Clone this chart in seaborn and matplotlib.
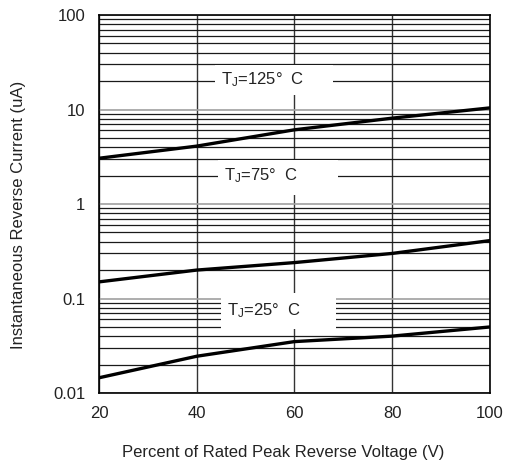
import numpy as np
import pandas as pd
import matplotlib
matplotlib.use("Agg")
import matplotlib.pyplot as plt
from matplotlib.patches import Rectangle
from matplotlib.ticker import LogLocator, NullFormatter, FixedLocator, FixedFormatter
import seaborn as sns

# ---- data ----
voltage_pct = [20, 40, 60, 80, 100]
i_125 = [3.05, 4.1, 6.1, 8.1, 10.4]
i_75 = [0.15, 0.20, 0.24, 0.30, 0.41]
i_25 = [0.0145, 0.0245, 0.035, 0.040, 0.050]
series_names = ["125", "75", "25"]
x_ticks = [20, 40, 60, 80, 100]
y_ticks = [0.01, 0.1, 1, 10, 100]
y_tick_labels = ["0.01", "0.1", "1", "10", "100"]

df = pd.DataFrame({
    "x": voltage_pct * 3,
    "y": i_125 + i_75 + i_25,
    "s": [series_names[0]] * 5 + [series_names[1]] * 5 + [series_names[2]] * 5,
})

sns.set_theme(style="white")
plt.rcParams["font.family"] = ["Liberation Sans", "DejaVu Sans"]
plt.rcParams["font.sans-serif"] = ["Liberation Sans", "Arial", "DejaVu Sans"]
plt.rcParams["mathtext.fontset"] = "custom"
plt.rcParams["mathtext.rm"] = "Liberation Sans"

fig = plt.figure(figsize=(5.06, 4.65), dpi=100)
ax = fig.add_axes([0.1957, 0.1548, 0.968 - 0.1957, 0.9677 - 0.1548])

sns.lineplot(data=df, x="x", y="y", units="s", estimator=None, color="black",
             linewidth=2.4, ax=ax, zorder=5, legend=False)

ax.set_yscale("log")
ax.set_xlim(20, 100)
ax.set_ylim(0.01, 100)

ax.yaxis.set_major_locator(FixedLocator(y_ticks))
ax.yaxis.set_major_formatter(FixedFormatter(y_tick_labels))
ax.yaxis.set_minor_locator(LogLocator(base=10, subs=np.arange(2, 10)))
ax.yaxis.set_minor_formatter(NullFormatter())
ax.set_xticks(x_ticks)

ax.grid(True, which="major", axis="y", color="#a0a0a0", linewidth=1.2, zorder=1)
ax.grid(True, which="minor", axis="y", color="#1a1a1a", linewidth=0.9, zorder=1)
ax.grid(True, which="major", axis="x", color="#333333", linewidth=1.0, zorder=1)
ax.set_axisbelow(True)

ax.tick_params(axis="both", which="both", length=0, labelsize=12, colors="#222222")
ax.tick_params(axis="y", pad=10)
ax.tick_params(axis="x", pad=9)

for sp in ax.spines.values():
    sp.set_color("black")
    sp.set_linewidth(1.2)

ax.set_xlabel("Percent of Rated Peak Reverse Voltage (V)", fontsize=12, color="#222222")
ax.set_ylabel("Instantaneous Reverse Current (uA)", fontsize=12, color="#222222")
ax.xaxis.set_label_coords(0.4706, -0.138)
ax.yaxis.set_label_coords(-0.187, 0.471)

# label boxes
boxes = [
    (43.7, 67.9, 14.2, 29.6, 20.5, r"T$_{\rm J}$=125°  C"),
    (44.3, 68.9, 1.245, 2.92, 1.98, r"T$_{\rm J}$=75°  C"),
    (45.0, 68.5, 0.0476, 0.114, 0.0738, r"T$_{\rm J}$=25°  C"),
]
for x0, x1, y0, y1, yt, lab in boxes:
    ax.add_patch(Rectangle((x0, y0), x1 - x0, y1 - y0, facecolor="white",
                           edgecolor="none", zorder=3))
    ax.text(x0 + 1.3, yt, lab, fontsize=12, color="#222222", ha="left",
            va="center", zorder=4)

fig.savefig("out.png", dpi=100)
